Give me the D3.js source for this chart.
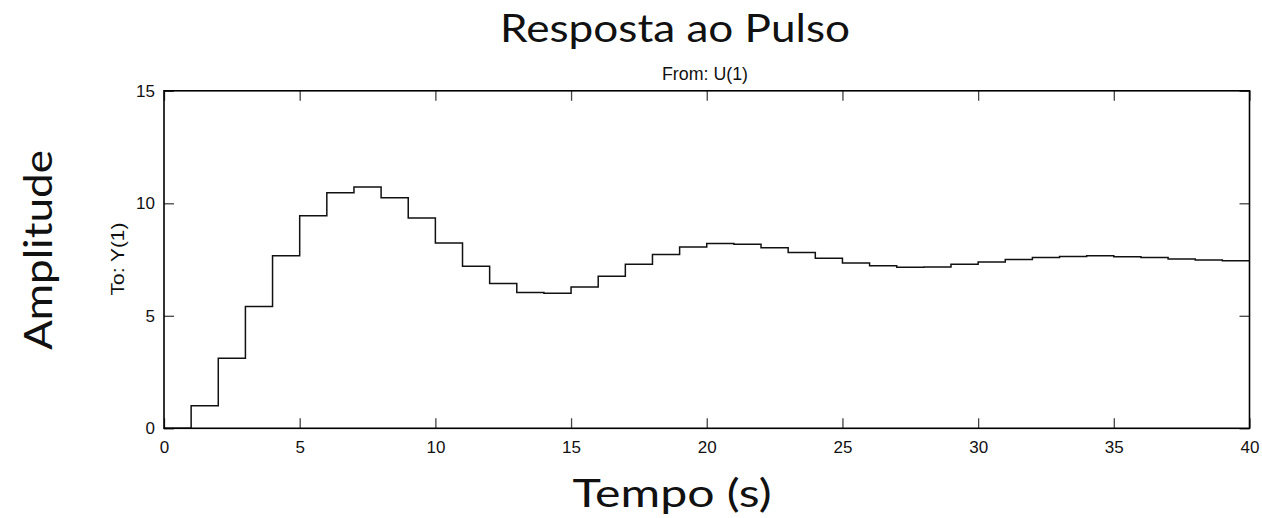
<!DOCTYPE html>
<html>
<head>
<script src="https://cdn.jsdelivr.net/npm/d3@7"></script>
<style>
  body { margin: 0; background: #fff; }
  svg text { fill: #111; }
  .tick text { font-family: "Liberation Sans", Arial, sans-serif; font-size: 17px; }
  .big { font-family: Lato, "Open Sans", sans-serif; font-weight: 400; }
</style>
</head>
<body>
<div id="chart"></div>
<script>
// pulse response samples, one per second (t = 0 .. 39)
var amplitude = [0, 1.0, 3.11, 5.41, 7.67, 9.45, 10.47, 10.73, 10.25, 9.35,
                 8.24, 7.2, 6.44, 6.04, 6.0, 6.28, 6.76, 7.29, 7.73, 8.06,
                 8.21, 8.18, 8.03, 7.81, 7.56, 7.35, 7.23, 7.16, 7.17, 7.29,
                 7.39, 7.5, 7.59, 7.64, 7.67, 7.63, 7.59, 7.53, 7.48, 7.45];
var xTicks = [0, 5, 10, 15, 20, 25, 30, 35, 40];
var yTicks = [0, 5, 10, 15];

var W = 1262, H = 518;
var pLeft = 164, pRight = 1249.5, pTop = 90.8, pBottom = 428.3;

var svg = d3.select("#chart").append("svg")
    .attr("width", W)
    .attr("height", H);

var x = d3.scaleLinear().domain([0, 40]).range([pLeft, pRight]);
var y = d3.scaleLinear().domain([0, 15]).range([pBottom, pTop]);

// step data: hold the last sample until t = 40
var pts = amplitude.map(function(v, i) { return [i, v]; });
pts.push([40, amplitude[amplitude.length - 1]]);

function styleAxis(g) {
    g.select(".domain").remove();
    g.selectAll(".tick line").attr("stroke", "#444").attr("stroke-width", 1.3);
}

svg.append("g")
    .attr("transform", "translate(0," + pBottom + ")")
    .call(d3.axisBottom(x).tickValues(xTicks).tickSizeInner(-10).tickSizeOuter(0).tickPadding(13))
    .call(styleAxis);

svg.append("g")
    .attr("transform", "translate(0," + pTop + ")")
    .call(d3.axisTop(x).tickValues(xTicks).tickSizeInner(-10).tickSizeOuter(0).tickFormat(""))
    .call(styleAxis);

svg.append("g")
    .attr("transform", "translate(" + pLeft + ",0)")
    .call(d3.axisLeft(y).tickValues(yTicks).tickSizeInner(-10).tickSizeOuter(0).tickPadding(9))
    .call(styleAxis);

svg.append("g")
    .attr("transform", "translate(" + pRight + ",0)")
    .call(d3.axisRight(y).tickValues(yTicks).tickSizeInner(-10).tickSizeOuter(0).tickFormat(""))
    .call(styleAxis);

svg.selectAll(".tick text").attr("fill", "#111");

// step response
var line = d3.line()
    .x(function(d) { return x(d[0]); })
    .y(function(d) { return y(d[1]); })
    .curve(d3.curveStepAfter);

svg.append("path")
    .datum(pts)
    .attr("d", line)
    .attr("fill", "none")
    .attr("stroke", "#111")
    .attr("stroke-width", 1.5);

// frame
svg.append("rect")
    .attr("x", pLeft).attr("y", pTop)
    .attr("width", pRight - pLeft).attr("height", pBottom - pTop)
    .attr("fill", "none")
    .attr("stroke", "#000")
    .attr("stroke-width", 1.6);

// titles
svg.append("text")
    .attr("class", "big")
    .attr("x", 675).attr("y", 42)
    .attr("text-anchor", "middle")
    .style("font-size", "38px")
    .attr("textLength", 350).attr("lengthAdjust", "spacingAndGlyphs")
    .text("Resposta ao Pulso");

svg.append("text")
    .attr("x", 705).attr("y", 80)
    .attr("text-anchor", "middle")
    .style("font-family", "Liberation Sans, Arial, sans-serif")
    .style("font-size", "18px")
    .attr("textLength", 86).attr("lengthAdjust", "spacingAndGlyphs")
    .text("From: U(1)");

svg.append("text")
    .attr("class", "big")
    .attr("x", 672).attr("y", 507)
    .attr("text-anchor", "middle")
    .style("font-size", "38px")
    .attr("textLength", 199).attr("lengthAdjust", "spacingAndGlyphs")
    .text("Tempo (s)");

svg.append("text")
    .attr("class", "big")
    .attr("transform", "translate(52,250) rotate(-90)")
    .attr("text-anchor", "middle")
    .style("font-size", "38px")
    .attr("textLength", 200).attr("lengthAdjust", "spacingAndGlyphs")
    .text("Amplitude");

svg.append("text")
    .attr("transform", "translate(124,259) rotate(-90)")
    .attr("text-anchor", "middle")
    .style("font-family", "Liberation Sans, Arial, sans-serif")
    .style("font-size", "18px")
    .attr("textLength", 73).attr("lengthAdjust", "spacingAndGlyphs")
    .text("To: Y(1)");
</script>
</body>
</html>
